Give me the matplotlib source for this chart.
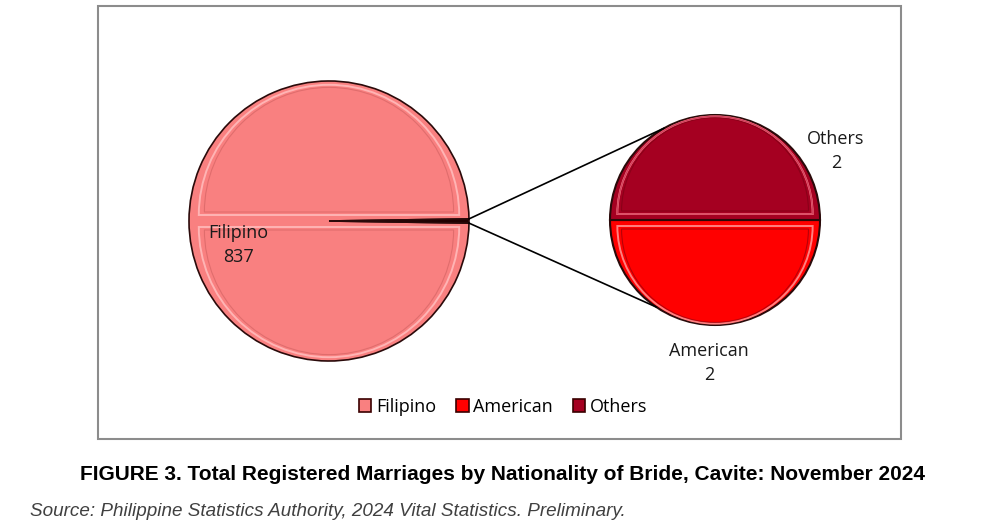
import matplotlib.pyplot as plt
from matplotlib.patches import Wedge, Rectangle, Patch
import numpy as np

# data
labels = ['Filipino', 'American', 'Others']
values = [837, 2, 2]
colors = ['#F98080', '#FF0000', '#A50021']

title = 'FIGURE 3. Total Registered Marriages by Nationality of Bride, Cavite: November 2024'
source = 'Source: Philippine Statistics Authority, 2024 Vital Statistics. Preliminary.'

plt.rcParams['font.family'] = ['Open Sans', 'DejaVu Sans']

fig = plt.figure(figsize=(9.84, 5.32), dpi=100)
ax = fig.add_axes([0, 0, 1, 1])

# main pie: Filipino vs. the rest (split out into second pie)
c1 = (329, 221); r1 = 140
rest = sum(values[1:])
span = rest / sum(values) * 360
ax.pie([values[0], rest], colors=[colors[0], '#200000'], center=c1, radius=r1,
       startangle=span / 2, counterclock=True,
       wedgeprops=dict(edgecolor='#2a0a0a', linewidth=1.2))

# second pie: American (bottom) and Others (top)
c2 = (715, 220); r2 = 105
ax.pie(values[1:], colors=colors[1:], center=c2, radius=r2, startangle=0,
       wedgeprops=dict(edgecolor='#2a0a0a', linewidth=1.5))

# pie() resets the limits, so fix pixel-like coords afterwards
ax.set_xlim(0, 984)
ax.set_ylim(532, 0)
ax.set_aspect('equal')
ax.axis('off')

# chart frame
ax.add_patch(Rectangle((98, 6), 803, 433, fill=False, edgecolor='#8c8c8c', lw=1.5))

# bevel-like inner edges (top half / bottom half)
def bevel(c, r, lite, dark):
    for t1, t2, dy in [(180, 360, -6), (0, 180, 6)]:
        ax.add_patch(Wedge((c[0], c[1] + dy), r * 0.93, t1, t2, fill=False,
                           edgecolor=lite, lw=1.4))
        ax.add_patch(Wedge((c[0], c[1] + dy * 1.5), r * 0.89, t1, t2, fill=False,
                           edgecolor=dark, lw=0.8, alpha=0.5))

bevel(c1, r1, '#ffb4b4', '#c85a5a')
bevel(c2, r2, '#ff8080', '#700010')
ax.add_patch(Wedge((c2[0], c2[1] - 6), r2 * 0.93, 180, 360, fill=False,
                   edgecolor='#d04060', lw=1.0))

# connector lines
a = np.radians(span / 2)
p_top = (c1[0] + r1 * np.cos(a), c1[1] - r1 * np.sin(a))
p_bot = (c1[0] + r1 * np.cos(a), c1[1] + r1 * np.sin(a))
q_top = (c2[0] + r2 * np.cos(np.radians(241)), c2[1] + r2 * np.sin(np.radians(241)))
q_bot = (c2[0] + r2 * np.cos(np.radians(124)), c2[1] + r2 * np.sin(np.radians(124)))
ax.plot([p_top[0], q_top[0]], [p_top[1], q_top[1]], color='black', lw=1.2)
ax.plot([p_bot[0], q_bot[0]], [p_bot[1], q_bot[1]], color='black', lw=1.2)

# data labels
lab_kw = dict(ha='center', va='center', fontsize=13, color='#1a1a1a', linespacing=1.4)
ax.text(238, 245, f'{labels[0]}\n{values[0]}', **lab_kw)
ax.text(709, 363, f'{labels[1]}\n{values[1]}', **lab_kw)
ax.text(836, 151, f'{labels[2]}\n{values[2]}', **lab_kw)

# legend
handles = [Patch(facecolor=col, edgecolor='#3a0000', lw=1.2) for col in colors]
fig.legend(handles, labels, loc='center', bbox_to_anchor=(503 / 984, 1 - 407 / 532),
           ncol=3, frameon=False, fontsize=13, handlelength=0.7, handleheight=0.7,
           handletextpad=0.25, columnspacing=1.1)

# caption
fig.text(502 / 984, 1 - 474 / 532, title, ha='center', va='center', fontsize=15,
         fontweight='bold', family=['Liberation Sans', 'DejaVu Sans'])
fig.text(30 / 984, 1 - 511 / 532, source, ha='left', va='center', fontsize=13.6,
         style='italic', color='#404040', family=['Liberation Sans', 'DejaVu Sans'])

fig.savefig('out.png', dpi=100)
